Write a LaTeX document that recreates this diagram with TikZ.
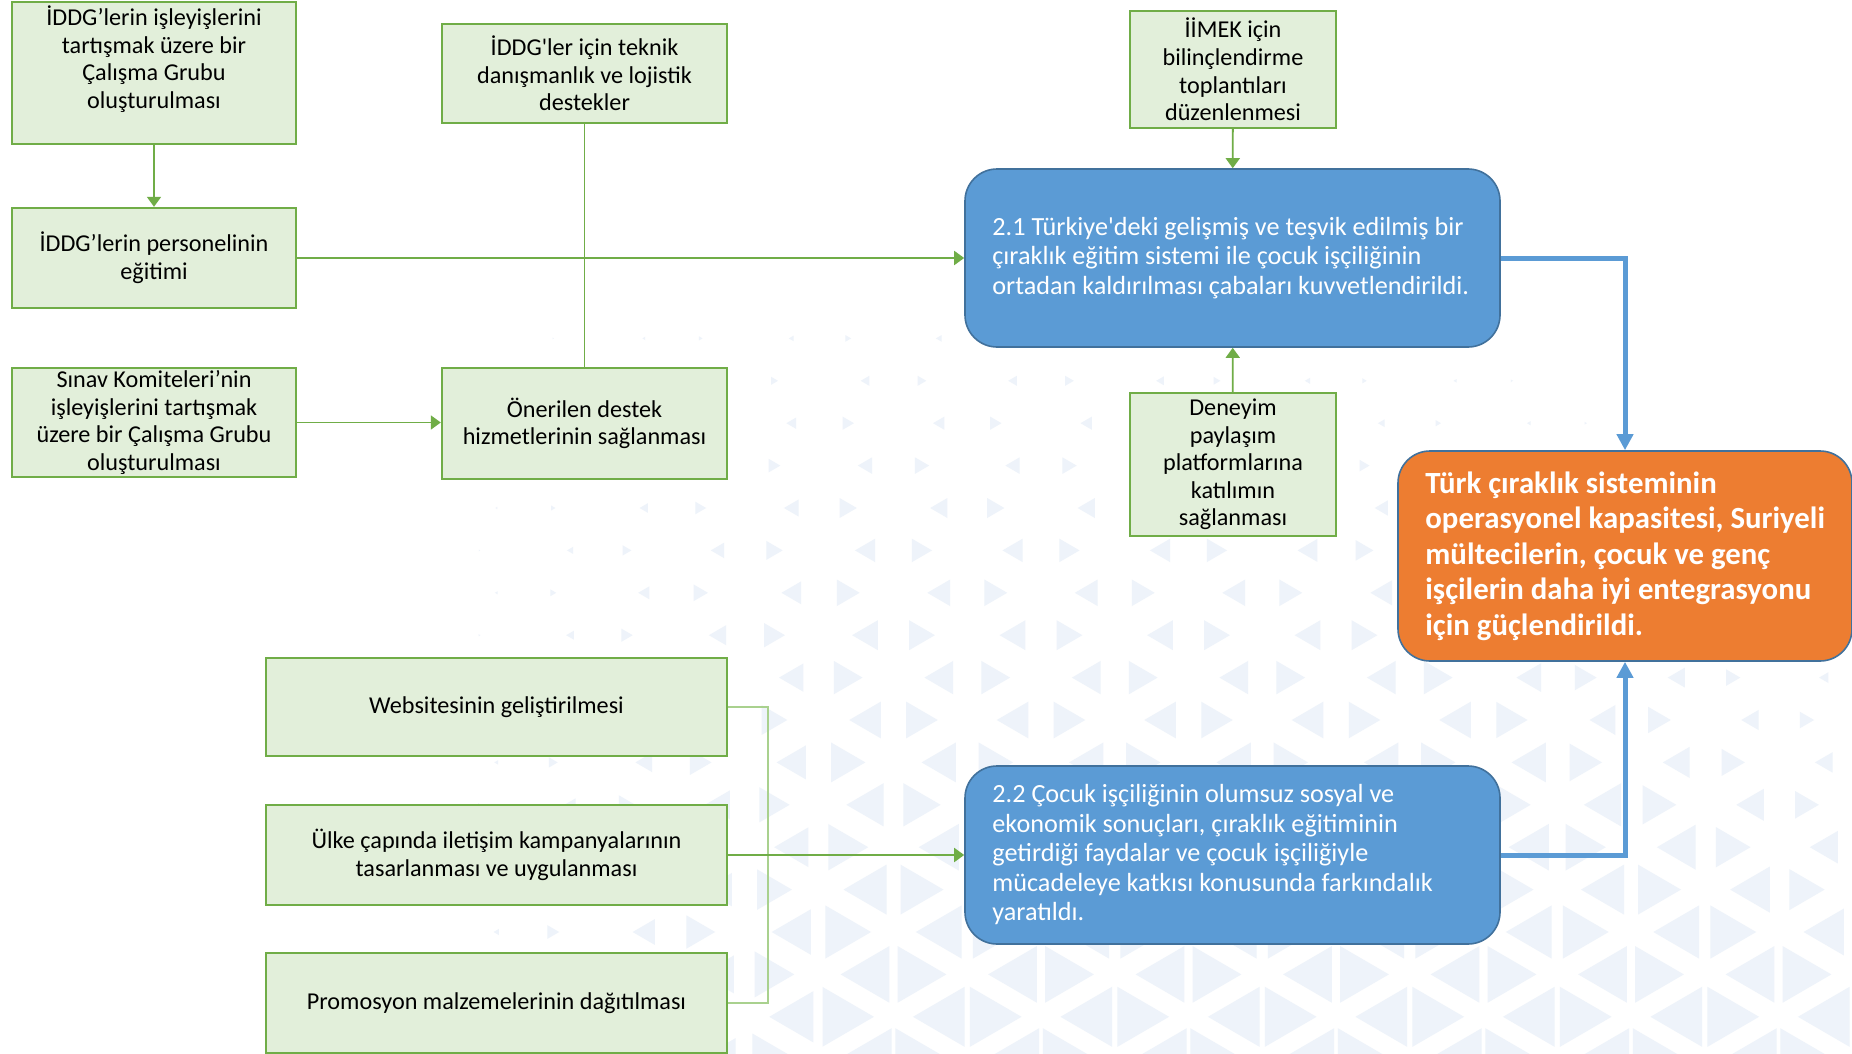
\documentclass[tikz,border=0pt]{standalone}
\usepackage{fontspec}
\setmainfont{Carlito}
\usetikzlibrary{arrows.meta}
\definecolor{gfill}{HTML}{E2EFDA}
\definecolor{gline}{HTML}{70AD47}
\definecolor{glight}{HTML}{A9D18E}
\definecolor{bfill}{HTML}{5B9BD5}
\definecolor{bline}{HTML}{41719C}
\definecolor{ofill}{HTML}{ED7D31}
\definecolor{tricol}{HTML}{EEF3FA}
\newcommand\gtfont{\fontsize{12.1}{13.8}\selectfont}
\newcommand\btfont{\fontsize{13.1}{14.75}\selectfont}
\newcommand\otfont{\fontsize{15.4}{17.7}\selectfont\bfseries}
\newcommand\sq{\textquotesingle}
\begin{document}
\begin{tikzpicture}[x=0.5pt,y=-0.5pt,
  gbox/.style={draw=gline, fill=gfill, line width=1.2pt, inner sep=0pt, align=center, font=\gtfont, text=black},
  gtxt/.style={align=center, font=\gtfont, text=black, inner sep=0pt},
  bbox/.style={draw=bline, fill=bfill, line width=0.8pt, rounded corners=16pt, inner sep=0pt, minimum width=267.5pt, minimum height=89pt},
  obox/.style={draw=bline, fill=ofill, line width=0.8pt, rounded corners=16pt, inner sep=0pt},
  btxt/.style={align=left, font=\btfont, text=white, inner sep=0pt, anchor=west},
  otxt/.style={align=left, font=\otfont, text=white, inner sep=0pt, anchor=west},
  garrow/.style={draw=gline, line width=0.9pt, -{Triangle[length=5pt,width=7pt]}},
  gline/.style={draw=gline, line width=0.9pt},
  glite/.style={draw=glight, line width=0.9pt},
  barrow/.style={draw=bfill, line width=2.5pt, -{Triangle[length=8pt,width=8pt]}},
  tri/.style={fill=tricol}]
\useasboundingbox (0,0) rectangle (1852,1054);
\fill[white] (0,0) rectangle (1852,1054);
% background triangles
\begin{scope}
\clip (0,0) rectangle (1852,1054);
\foreach \k in {-9,...,8}{
 \foreach \m in {-4,...,7}{
  \foreach \d/\s in {0/-1,57/1}{
   \pgfmathsetmacro\cy{720+42.4*\k}
   \pgfmathsetmacro\cx{865+147.5*\m+73.75*mod(\k+10,2)+\d}
   \pgfmathsetmacro\hh{max(0,min(62,(20+0.0786*(\cy-508))*max(0,min(1,(\cx-450)/400))*max(0,min(1,1-(\cx-1250-(\cy-508)*1.2)/550))))}
   \pgfmathsetmacro\ax{\cx+\s*0.43*\hh}
   \pgfmathsetmacro\bx{\cx-\s*0.43*\hh}
   \pgfmathsetmacro\ty{\cy-0.5*\hh}
   \pgfmathsetmacro\by{\cy+0.5*\hh}
   \ifdim\hh pt>1.5pt
     \fill[tri] (\ax,\cy) -- (\bx,\ty) -- (\bx,\by) -- cycle;
   \fi
  }}}
\end{scope}
% green boxes
\node[gbox, minimum width=142pt, minimum height=71pt] (A) at (154,73) {};
\node[gtxt] (At) at (154,59) {İDDG’lerin işleyişlerini\\tartışmak üzere bir\\Çalışma Grubu\\oluşturulması};
\node[gbox, minimum width=142.5pt, minimum height=49.5pt] (B) at (584.5,73.5) {İDDG\sq ler için teknik\\danışmanlık ve lojistik\\destekler};
\node[gbox, minimum width=142pt, minimum height=50pt] (C) at (154,258) {İDDG’lerin personelinin\\eğitimi};
\node[gbox, minimum width=142pt, minimum height=54.5pt] (D) at (154,422.5) {Sınav Komiteleri’nin\\işleyişlerini tartışmak\\üzere bir Çalışma Grubu\\oluşturulması};
\node[gbox, minimum width=142.5pt, minimum height=55.5pt] (E) at (584.5,423.5) {Önerilen destek\\hizmetlerinin sağlanması};
\node[gbox, minimum width=103pt, minimum height=58.5pt] (F) at (1233,69.5) {İİMEK için\\bilinçlendirme\\toplantıları\\düzenlenmesi};
\node[gbox, minimum width=103pt, minimum height=71.5pt] (G) at (1233,464.5) {Deneyim\\paylaşım\\platformlarına\\katılımın\\sağlanması};
\node[gbox, minimum width=230.5pt, minimum height=49pt] (H) at (496.5,707) {Websitesinin geliştirilmesi};
\node[gbox, minimum width=230.5pt, minimum height=50pt] (I) at (496.5,855) {Ülke çapında iletişim kampanyalarının\\tasarlanması ve uygulanması};
\node[gbox, minimum width=230.5pt, minimum height=50pt] (J) at (496.5,1003) {Promosyon malzemelerinin dağıtılması};
% blue and orange boxes
\node[bbox] (O1) at (1232.5,258) {};
\node[btxt] (O1t) at (992,258) {2.1 Türkiye\sq deki gelişmiş ve teşvik edilmiş bir\\çıraklık eğitim sistemi ile çocuk işçiliğinin\\ortadan kaldırılması çabaları kuvvetlendirildi.};
\node[bbox] (O2) at (1232.5,855) {};
\node[btxt] (O2t) at (992,855) {2.2 Çocuk işçiliğinin olumsuz sosyal ve\\ekonomik sonuçları, çıraklık eğitiminin\\getirdiği faydalar ve çocuk işçiliğiyle\\mücadeleye katkısı konusunda farkındalık\\yaratıldı.};
\node[obox, minimum width=227pt, minimum height=105pt] (OB) at (1625,556) {};
\node[otxt] (OBt) at (1425,556) {Türk çıraklık sisteminin\\operasyonel kapasitesi, Suriyeli\\mültecilerin, çocuk ve genç\\işçilerin daha iyi entegrasyonu\\için güçlendirildi.};
% connectors
\draw[garrow] (A) -- (C);
\draw[gline] (B) -- (E);
\draw[garrow] (C) -- (C -| O1.west);
\draw[garrow] (D) -- (D -| E.west);
\draw[garrow] (F) -- (O1);
\draw[garrow] (G) -- (O1);
\draw[barrow] (O1.east) -| (OB.north);
\draw[barrow] (O2.east) -| (OB.south);
\coordinate (brk) at (768,855);
\draw[glite] (H.east) -| (brk) |- (J.east);
\draw[garrow] (I) -- (O2);
\end{tikzpicture}
\end{document}
